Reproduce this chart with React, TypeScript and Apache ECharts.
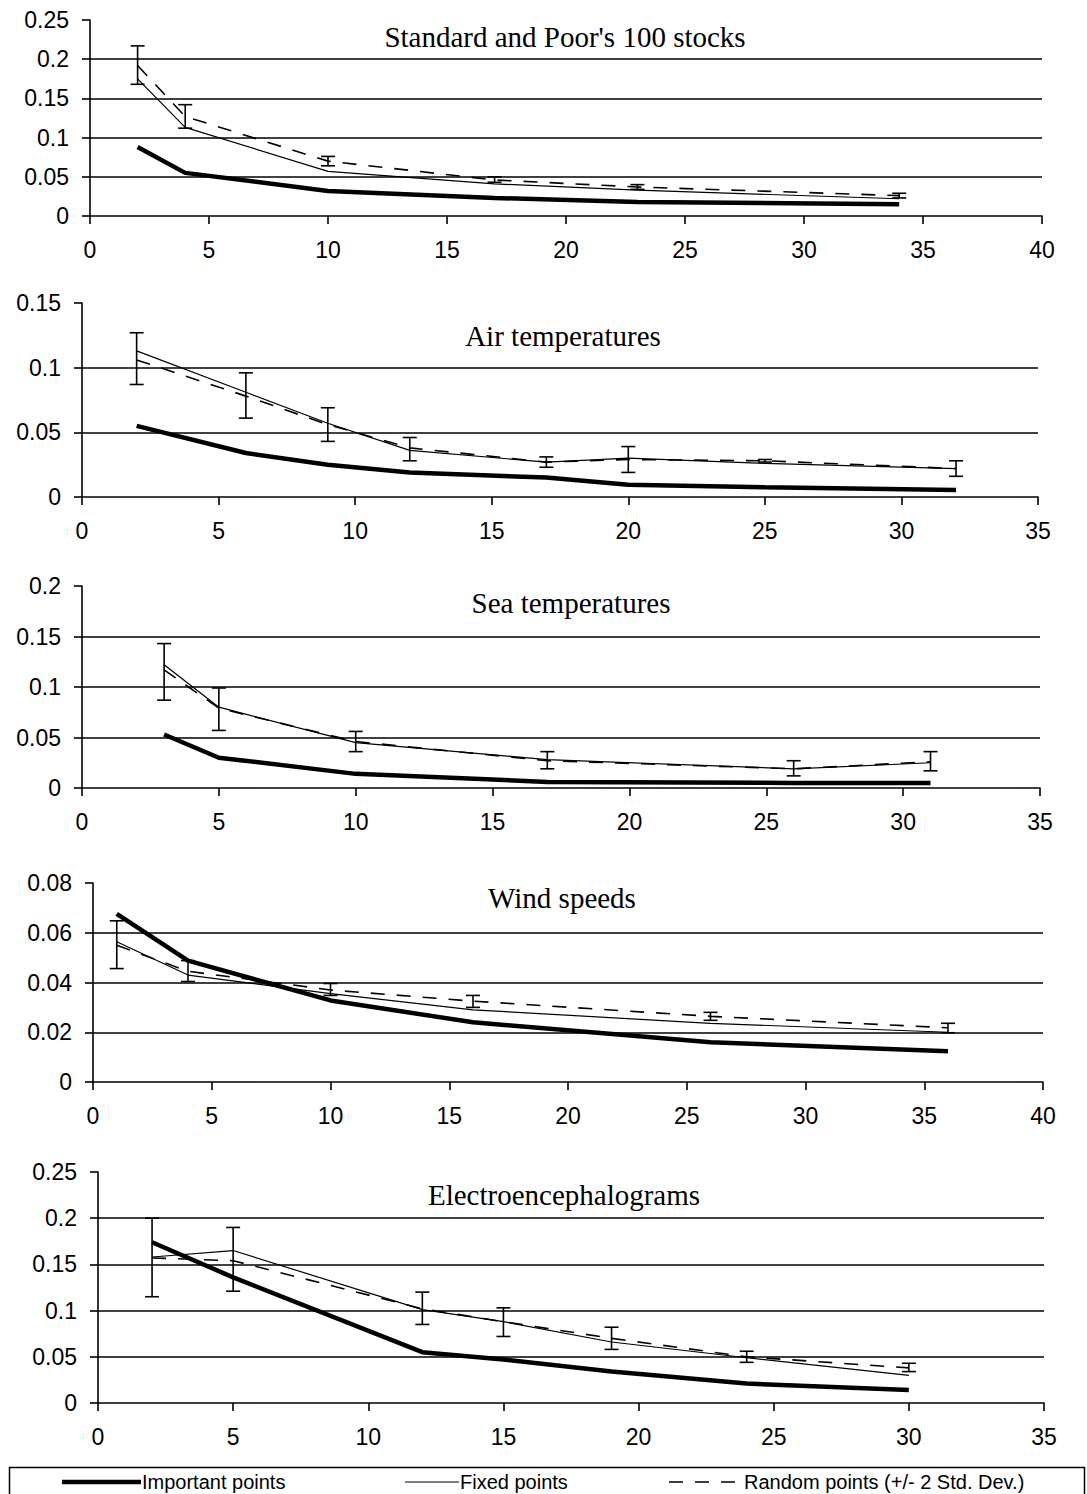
import React, { useEffect, useRef } from "react";
import * as echarts from "echarts";

// ---- Data: Standard and Poor's 100 stocks ----
const spX = [2, 4, 10, 17, 23, 34];
const spImportant = [0.088, 0.055, 0.032, 0.023, 0.018, 0.015];
const spFixed = [0.175, 0.113, 0.057, 0.041, 0.033, 0.022];
const spRandom = [0.192, 0.127, 0.07, 0.046, 0.037, 0.026];
const spLow = [0.168, 0.112, 0.064, 0.043, 0.034, 0.023];
const spHigh = [0.217, 0.142, 0.076, 0.05, 0.04, 0.029];

// ---- Air temperatures ----
const airX = [2, 6, 9, 12, 17, 20, 25, 32];
const airImportant = [0.055, 0.034, 0.025, 0.019, 0.015, 0.0095, 0.0075, 0.0055];
const airFixed = [0.113, 0.081, 0.057, 0.036, 0.027, 0.03, 0.026, 0.022];
const airRandom = [0.106, 0.078, 0.056, 0.038, 0.027, 0.029, 0.028, 0.022];
const airLow = [0.087, 0.061, 0.043, 0.028, 0.023, 0.019, 0.027, 0.016];
const airHigh = [0.127, 0.096, 0.069, 0.046, 0.031, 0.039, 0.029, 0.028];

// ---- Sea temperatures ----
const seaX = [3, 5, 10, 17, 26, 31];
const seaImportant = [0.053, 0.03, 0.014, 0.006, 0.005, 0.005];
const seaFixed = [0.122, 0.08, 0.045, 0.028, 0.019, 0.025];
const seaRandom = [0.117, 0.079, 0.046, 0.027, 0.019, 0.026];
const seaLow = [0.087, 0.057, 0.036, 0.019, 0.012, 0.017];
const seaHigh = [0.143, 0.099, 0.056, 0.036, 0.027, 0.036];

// ---- Wind speeds ----
const windX = [1, 4, 10, 16, 26, 36];
const windImportant = [0.0676, 0.0488, 0.0328, 0.024, 0.016, 0.0124];
const windFixed = [0.0564, 0.043, 0.0355, 0.029, 0.0236, 0.02];
const windRandom = [0.055, 0.0445, 0.037, 0.0325, 0.0264, 0.0218];
const windLow = [0.0456, 0.0404, 0.0348, 0.03, 0.0248, 0.0198];
const windHigh = [0.0648, 0.0488, 0.0396, 0.0348, 0.028, 0.0236];

// ---- Electroencephalograms ----
const eegX = [2, 5, 12, 15, 19, 24, 30];
const eegImportant = [0.174, 0.136, 0.055, 0.047, 0.034, 0.021, 0.014];
const eegFixed = [0.158, 0.165, 0.101, 0.088, 0.066, 0.049, 0.03];
const eegRandom = [0.157, 0.154, 0.102, 0.088, 0.07, 0.05, 0.038];
const eegLow = [0.115, 0.121, 0.085, 0.072, 0.058, 0.044, 0.034];
const eegHigh = [0.2, 0.19, 0.12, 0.103, 0.082, 0.056, 0.043];

const titles = [
  "Standard and Poor's 100 stocks",
  "Air temperatures",
  "Sea temperatures",
  "Wind speeds",
  "Electroencephalograms",
];
const legendNames = ["Important points", "Fixed points", "Random points (+/- 2 Std. Dev.)"];

const SANS = "Liberation Sans, Arial, sans-serif";
const SERIF = "Liberation Serif, Times New Roman, serif";

const panels = [
  { xs: spX, imp: spImportant, fix: spFixed, rnd: spRandom, lo: spLow, hi: spHigh, xMax: 40, yMax: 0.25, yStep: 0.05,
    grid: { left: 90, top: 20, width: 952, height: 196 }, tx: 565, ty: 37 },
  { xs: airX, imp: airImportant, fix: airFixed, rnd: airRandom, lo: airLow, hi: airHigh, xMax: 35, yMax: 0.15, yStep: 0.05,
    grid: { left: 82, top: 303, width: 956, height: 194 }, tx: 563, ty: 336 },
  { xs: seaX, imp: seaImportant, fix: seaFixed, rnd: seaRandom, lo: seaLow, hi: seaHigh, xMax: 35, yMax: 0.2, yStep: 0.05,
    grid: { left: 82, top: 586, width: 958, height: 202 }, tx: 571, ty: 603 },
  { xs: windX, imp: windImportant, fix: windFixed, rnd: windRandom, lo: windLow, hi: windHigh, xMax: 40, yMax: 0.08, yStep: 0.02,
    grid: { left: 93, top: 883, width: 950, height: 199 }, tx: 562, ty: 898 },
  { xs: eegX, imp: eegImportant, fix: eegFixed, rnd: eegRandom, lo: eegLow, hi: eegHigh, xMax: 35, yMax: 0.25, yStep: 0.05,
    grid: { left: 98, top: 1172, width: 946, height: 231 }, tx: 564, ty: 1195 },
];

function buildOption() {
  const grids: any[] = [];
  const xAxes: any[] = [];
  const yAxes: any[] = [];
  const series: any[] = [];
  const graphics: any[] = [];

  panels.forEach((p, i) => {
    grids.push({ ...p.grid, containLabel: false });
    xAxes.push({
      type: "value",
      gridIndex: i,
      min: 0,
      max: p.xMax,
      interval: 5,
      axisLine: { show: true, onZero: false, lineStyle: { color: "#000", width: 1.6 } },
      axisTick: { show: true, length: 8, lineStyle: { color: "#000", width: 1.6 } },
      axisLabel: { color: "#000", fontFamily: SANS, fontSize: 23, margin: 22 },
      splitLine: { show: false },
    });
    yAxes.push({
      type: "value",
      gridIndex: i,
      min: 0,
      max: p.yMax,
      interval: p.yStep,
      axisLine: { show: true, lineStyle: { color: "#000", width: 1.6 } },
      axisTick: { show: true, length: 8, lineStyle: { color: "#000", width: 1.6 } },
      axisLabel: { color: "#000", fontFamily: SANS, fontSize: 23, margin: 21 },
      splitLine: { show: true, showMinLine: false, showMaxLine: false, lineStyle: { color: "#000", width: 1.6 } },
    });
    const pts = (vals: number[]) => p.xs.map((x, k) => [x, vals[k]]);
    series.push({
      type: "line", name: legendNames[0], xAxisIndex: i, yAxisIndex: i, data: pts(p.imp),
      symbol: "none", lineStyle: { color: "#000", width: 4.5 }, z: 3,
    });
    series.push({
      type: "line", name: legendNames[1], xAxisIndex: i, yAxisIndex: i, data: pts(p.fix),
      symbol: "none", lineStyle: { color: "#000", width: 1.2 }, z: 3,
    });
    series.push({
      type: "line", name: legendNames[2], xAxisIndex: i, yAxisIndex: i, data: pts(p.rnd),
      symbol: "none", lineStyle: { color: "#000", width: 1.6, type: [14, 12] }, z: 3,
    });
    series.push({
      type: "custom", xAxisIndex: i, yAxisIndex: i, z: 4,
      data: p.xs.map((x, k) => [x, p.lo[k], p.hi[k]]),
      encode: { x: 0, y: [1, 2] },
      renderItem: (params: any, api: any) => {
        const x = api.value(0);
        const a = api.coord([x, api.value(1)]);
        const b = api.coord([x, api.value(2)]);
        const hw = 7;
        const st = { stroke: "#000", lineWidth: 1.6 };
        return {
          type: "group",
          children: [
            { type: "line", shape: { x1: a[0], y1: a[1], x2: b[0], y2: b[1] }, style: st },
            { type: "line", shape: { x1: a[0] - hw, y1: a[1], x2: a[0] + hw, y2: a[1] }, style: st },
            { type: "line", shape: { x1: b[0] - hw, y1: b[1], x2: b[0] + hw, y2: b[1] }, style: st },
          ],
        };
      },
    });
    graphics.push({
      type: "text", x: p.tx, y: p.ty, z: 10,
      style: { text: titles[i], fill: "#000", fontFamily: SERIF, fontSize: 29, align: "center", verticalAlign: "middle" },
    });
  });

  // legend box
  const ly = 1482;
  graphics.push({
    type: "rect", shape: { x: 9.5, y: 1467.5, width: 1075, height: 40 },
    style: { fill: "none", stroke: "#000", lineWidth: 1.5 },
  });
  graphics.push({ type: "line", shape: { x1: 62, y1: ly, x2: 141, y2: ly }, style: { stroke: "#000", lineWidth: 4.5 } });
  graphics.push({
    type: "text", x: 142, y: ly,
    style: { text: legendNames[0], fill: "#000", fontFamily: SANS, fontSize: 20, align: "left", verticalAlign: "middle" },
  });
  graphics.push({ type: "line", shape: { x1: 405, y1: ly, x2: 459, y2: ly }, style: { stroke: "#000", lineWidth: 1.2 } });
  graphics.push({
    type: "text", x: 460, y: ly,
    style: { text: legendNames[1], fill: "#000", fontFamily: SANS, fontSize: 20, align: "left", verticalAlign: "middle" },
  });
  graphics.push({
    type: "line", shape: { x1: 669, y1: ly, x2: 743, y2: ly },
    style: { stroke: "#000", lineWidth: 1.6, lineDash: [14, 12] },
  });
  graphics.push({
    type: "text", x: 744, y: ly,
    style: { text: legendNames[2], fill: "#000", fontFamily: SANS, fontSize: 20, align: "left", verticalAlign: "middle" },
  });

  return {
    animation: false,
    backgroundColor: "#fff",
    grid: grids,
    xAxis: xAxes,
    yAxis: yAxes,
    series,
    graphic: graphics,
  };
}

export default function App() {
  const ref = useRef<HTMLDivElement>(null);
  useEffect(() => {
    document.body.style.margin = "0";
    if (!ref.current) return;
    const chart = echarts.init(ref.current, null, { renderer: "svg" });
    chart.setOption(buildOption() as any);
    return () => chart.dispose();
  }, []);
  return <div ref={ref} style={{ width: 1087, height: 1494 }} />;
}
